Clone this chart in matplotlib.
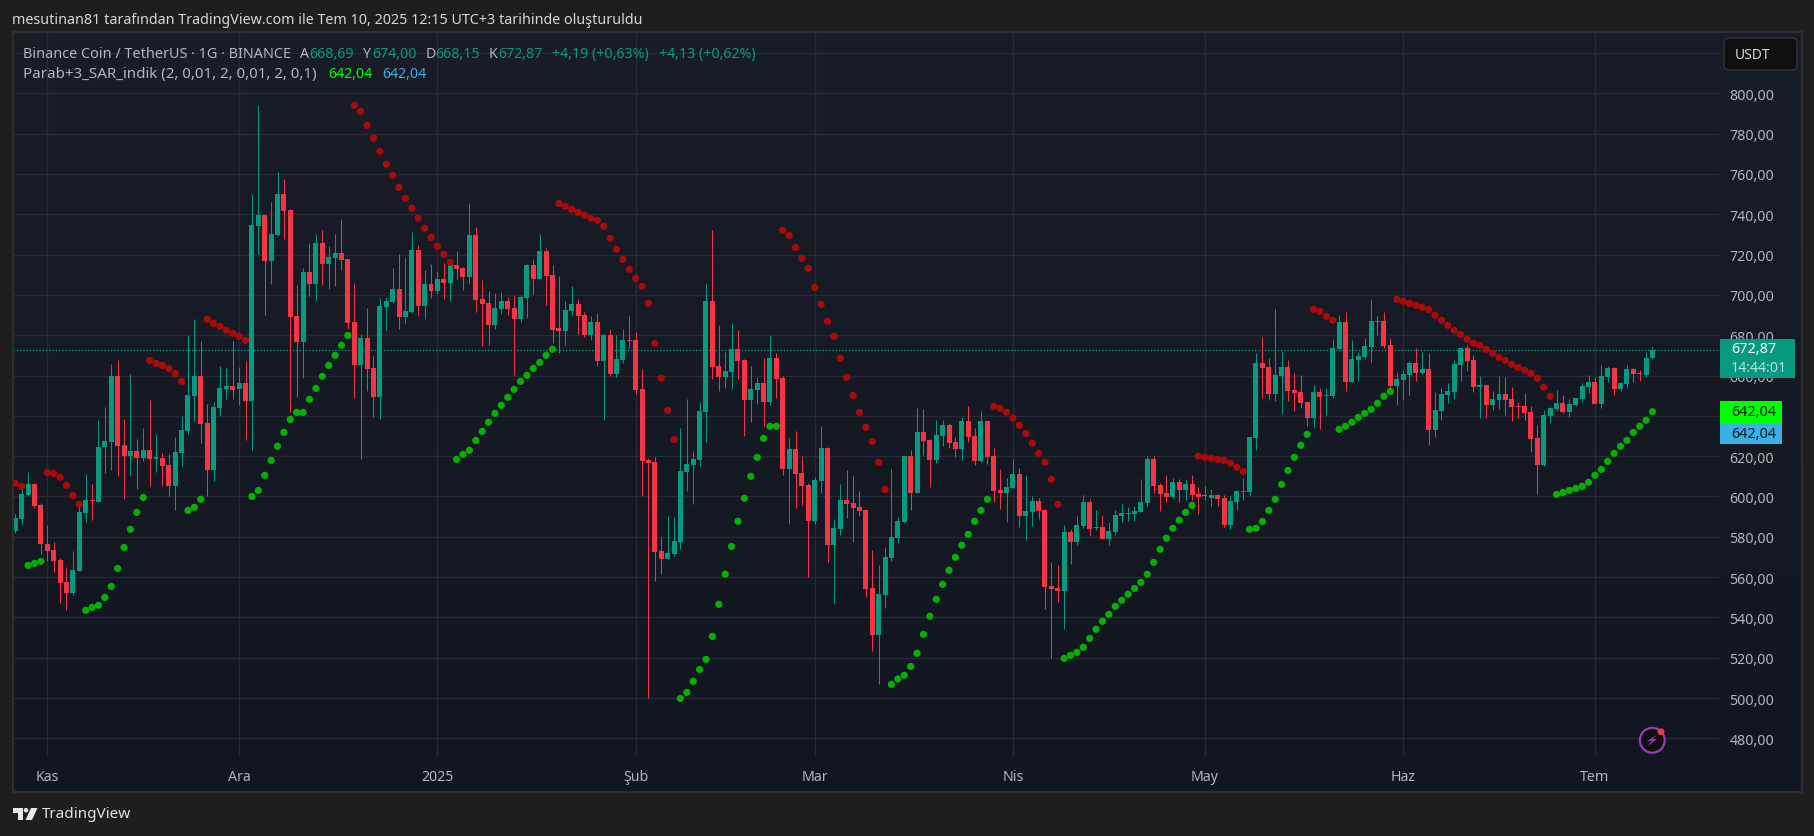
"""BNB/USDT daily candles with Parabolic SAR, TradingView dark style."""
import numpy as np
import pandas as pd
import matplotlib
matplotlib.use("Agg")
import matplotlib.pyplot as plt
from matplotlib.patches import Circle, FancyBboxPatch, Polygon, Rectangle

plt.rcParams["font.family"] = ["Noto Sans", "DejaVu Sans"]

dates = pd.date_range("2024-10-27", "2025-07-10", freq="D")

opens = [
    582.8, 588.8, 600.7, 606.2, 595.7, 576.4, 573.4, 568.5, 557.5, 552.1,
    563.0, 591.8, 598.2, 597.2, 624.5, 627.0, 659.7, 625.5, 620.0, 622.5,
    619.0, 623.0, 618.8, 619.0, 615.6, 605.2, 621.6, 632.5, 649.8, 659.7,
    636.4, 613.1, 643.9, 653.3, 654.8, 653.3, 656.3, 647.3, 734.2, 739.6,
    716.8, 729.7, 750.0, 742.1, 689.5, 676.6, 711.3, 705.4, 725.7, 715.3,
    718.3, 720.8, 717.8, 686.5, 665.2, 678.6, 663.7, 649.3, 694.0, 696.5,
    702.9, 689.0, 691.5, 722.3, 694.5, 705.4, 701.9, 707.9, 705.9, 714.8,
    713.3, 708.9, 729.7, 697.9, 696.0, 685.0, 693.0, 697.0, 693.5, 688.0,
    698.4, 714.8, 707.9, 721.8, 709.9, 683.6, 682.1, 692.0, 695.5, 690.0,
    680.1, 686.5, 667.2, 680.1, 660.7, 667.7, 677.6, 677.6, 653.3, 618.2,
    617.1, 572.9, 569.0, 571.4, 577.4, 612.1, 615.6, 618.1, 641.9, 697.0,
    664.7, 659.2, 661.7, 673.1, 667.7, 647.8, 652.8, 656.3, 646.8, 668.7,
    658.8, 613.6, 623.5, 611.6, 605.7, 587.8, 607.7, 624.0, 575.9, 583.8,
    598.2, 596.7, 594.8, 593.3, 554.6, 531.3, 551.1, 569.5, 579.4, 587.4,
    620.1, 601.7, 632.0, 628.0, 618.1, 630.0, 635.5, 627.0, 623.6, 637.5,
    630.0, 617.6, 637.5, 620.1, 603.2, 601.7, 604.2, 611.2, 590.3, 592.3,
    597.8, 593.3, 555.6, 554.6, 553.1, 582.4, 577.4, 585.4, 597.3, 584.4,
    584.9, 578.9, 582.4, 590.3, 591.3, 591.3, 592.3, 596.8, 618.6, 605.7,
    601.7, 599.8, 607.2, 603.2, 606.2, 601.2, 600.3, 599.3, 600.8, 599.3,
    585.9, 597.3, 602.2, 602.2, 629.0, 666.2, 664.2, 650.8, 659.8, 664.2,
    652.8, 651.8, 646.9, 638.9, 651.8, 649.8, 649.8, 673.1, 686.5, 656.8,
    667.7, 669.2, 674.1, 687.0, 687.0, 675.1, 654.8, 657.8, 660.2, 666.2,
    661.2, 663.2, 632.9, 642.4, 650.3, 651.8, 665.2, 673.6, 667.7, 654.3,
    655.3, 645.4, 647.8, 650.8, 648.3, 644.9, 644.9, 641.9, 629.0, 615.6,
    639.9, 643.4, 646.4, 641.9, 645.4, 648.3, 654.3, 656.8, 645.9, 659.2,
    663.7, 653.3, 655.8, 663.2, 661.2, 660.2, 668.69,
]
highs = [
    591.3, 604.7, 612.1, 606.7, 596.7, 585.8, 577.4, 569.5, 565.0, 572.9,
    595.3, 611.0, 606.2, 637.9, 644.4, 665.7, 667.7, 638.4, 660.7, 628.5,
    634.0, 647.8, 631.0, 621.6, 621.0, 629.5, 639.9, 680.0, 688.0, 677.1,
    645.8, 646.8, 664.7, 663.7, 677.1, 664.2, 667.2, 750.0, 794.2, 740.1,
    746.0, 761.0, 757.5, 742.6, 704.9, 713.3, 725.7, 730.2, 732.2, 724.2,
    730.2, 737.6, 717.8, 705.9, 680.6, 693.5, 669.7, 698.4, 699.0, 713.3,
    720.3, 718.6, 731.2, 724.7, 712.3, 715.3, 711.8, 715.8, 715.8, 721.8,
    713.8, 745.6, 733.7, 707.4, 701.9, 700.9, 701.4, 699.0, 699.9, 699.9,
    715.3, 717.8, 730.2, 723.3, 714.8, 709.4, 697.0, 704.4, 697.9, 691.5,
    689.5, 691.0, 680.6, 683.0, 680.1, 683.0, 689.5, 681.6, 663.2, 619.0,
    619.6, 579.9, 590.3, 589.8, 634.0, 648.3, 622.5, 646.8, 705.4, 732.2,
    685.0, 671.6, 686.0, 682.6, 668.2, 664.7, 659.2, 668.7, 680.1, 671.2,
    659.7, 629.0, 632.5, 620.0, 606.7, 609.6, 634.9, 624.5, 588.8, 606.2,
    613.1, 610.1, 602.7, 593.3, 573.4, 566.0, 574.9, 613.6, 589.8, 620.1,
    623.1, 643.9, 643.4, 628.5, 638.0, 638.0, 636.5, 629.5, 639.4, 644.9,
    634.0, 642.4, 637.5, 624.0, 613.6, 609.2, 618.6, 614.2, 610.7, 600.3,
    599.3, 593.8, 567.5, 566.0, 585.9, 583.9, 590.3, 600.8, 598.8, 593.3,
    590.8, 587.4, 593.3, 596.3, 594.8, 595.3, 608.7, 620.1, 620.1, 606.7,
    610.7, 609.2, 608.7, 608.2, 610.7, 604.7, 605.2, 603.7, 601.2, 600.8,
    600.3, 603.2, 609.2, 629.5, 671.2, 679.1, 668.7, 693.0, 672.1, 667.7,
    661.2, 660.2, 646.9, 655.3, 653.8, 653.8, 678.1, 690.0, 691.5, 677.6,
    671.7, 678.6, 698.0, 689.5, 691.5, 678.6, 661.7, 662.7, 667.2, 673.6,
    671.7, 671.2, 651.8, 653.8, 656.3, 667.7, 674.1, 675.1, 670.2, 659.8,
    655.3, 652.3, 659.8, 659.3, 654.3, 646.9, 651.3, 644.9, 635.4, 642.9,
    644.4, 652.8, 650.3, 648.3, 648.8, 656.3, 660.2, 659.2, 665.2, 664.7,
    664.2, 656.8, 665.2, 663.7, 662.7, 671.7, 674.0,
]
lows = [
    581.8, 585.8, 600.2, 594.3, 571.4, 567.9, 562.5, 547.1, 543.7, 551.1,
    563.0, 587.3, 588.3, 597.2, 611.6, 613.1, 610.1, 598.7, 610.6, 603.7,
    617.6, 605.2, 612.1, 605.2, 600.2, 593.3, 615.1, 631.0, 637.4, 626.5,
    600.2, 607.7, 639.9, 648.3, 648.3, 645.4, 628.0, 623.0, 720.3, 690.0,
    705.4, 729.0, 727.7, 641.9, 649.3, 658.8, 699.4, 697.0, 704.9, 702.9,
    704.4, 712.3, 683.0, 648.8, 618.6, 652.3, 639.4, 638.4, 682.6, 696.0,
    683.0, 686.0, 691.0, 690.0, 688.0, 698.4, 700.4, 697.9, 697.0, 707.9,
    702.4, 705.9, 691.5, 674.6, 675.1, 683.1, 690.5, 690.0, 660.2, 686.5,
    688.5, 700.4, 707.9, 695.0, 676.1, 671.2, 675.1, 690.0, 680.6, 679.1,
    677.6, 664.7, 637.9, 659.7, 659.2, 666.2, 673.6, 650.8, 600.2, 500.0,
    558.0, 561.5, 569.0, 570.5, 573.9, 602.7, 596.3, 615.1, 627.0, 658.3,
    652.3, 653.8, 653.3, 658.3, 630.0, 636.9, 645.9, 635.0, 645.4, 648.8,
    610.6, 586.3, 594.3, 595.8, 560.0, 586.3, 601.7, 567.5, 547.1, 580.9,
    589.3, 577.4, 590.3, 550.1, 523.3, 506.9, 544.7, 568.0, 576.9, 587.0,
    593.3, 601.7, 620.6, 604.7, 616.6, 625.0, 624.1, 619.6, 618.1, 627.0,
    615.6, 617.1, 616.1, 597.3, 593.8, 587.4, 604.2, 584.9, 578.4, 585.4,
    588.8, 544.2, 519.9, 547.7, 534.3, 566.5, 575.9, 584.4, 580.4, 583.4,
    578.9, 575.9, 580.9, 587.4, 587.9, 587.9, 592.3, 595.3, 601.7, 592.8,
    597.3, 599.3, 597.3, 598.3, 598.3, 591.3, 598.3, 595.3, 595.3, 584.9,
    583.9, 593.3, 598.3, 600.8, 623.0, 648.8, 647.8, 647.3, 640.9, 647.3,
    642.4, 643.9, 634.9, 634.4, 633.5, 640.4, 648.8, 673.1, 652.3, 656.8,
    657.3, 668.2, 666.7, 680.1, 673.6, 653.8, 645.4, 647.8, 650.3, 657.3,
    660.7, 625.5, 629.5, 637.9, 646.4, 648.3, 657.3, 662.2, 651.8, 638.9,
    638.9, 642.9, 643.4, 640.4, 637.4, 638.9, 637.9, 622.1, 601.2, 615.1,
    636.4, 642.4, 641.4, 639.4, 645.0, 646.9, 651.3, 645.9, 643.9, 656.8,
    650.3, 652.3, 653.8, 656.8, 657.3, 659.2, 668.15,
]
closes = [
    589.3, 601.2, 606.2, 595.2, 576.4, 572.9, 568.0, 557.0, 552.1, 563.5,
    592.3, 598.2, 597.7, 624.5, 627.5, 659.7, 625.0, 620.0, 622.5, 619.0,
    623.0, 618.6, 619.0, 615.0, 605.2, 622.0, 633.0, 650.3, 659.7, 635.9,
    613.1, 644.4, 653.8, 654.8, 652.8, 656.3, 647.3, 734.7, 739.6, 716.8,
    730.2, 750.0, 741.6, 689.0, 676.6, 711.3, 705.4, 725.7, 715.3, 718.8,
    720.8, 717.3, 686.0, 665.2, 678.6, 663.2, 649.3, 694.5, 697.0, 702.9,
    689.0, 692.0, 722.3, 694.5, 705.4, 701.9, 707.9, 705.9, 714.8, 712.8,
    708.9, 729.7, 697.5, 695.5, 685.0, 693.5, 697.0, 693.0, 688.0, 698.9,
    714.8, 707.9, 721.8, 709.4, 682.6, 682.1, 692.5, 695.5, 689.5, 680.1,
    686.5, 667.2, 680.1, 660.7, 668.2, 677.6, 677.1, 652.8, 617.6, 616.6,
    572.4, 569.0, 571.9, 577.9, 612.6, 616.1, 618.6, 642.4, 697.0, 664.2,
    659.2, 662.2, 673.1, 667.2, 647.8, 653.3, 656.3, 646.8, 668.7, 658.3,
    613.6, 623.5, 611.1, 605.2, 587.8, 608.2, 624.0, 575.9, 584.3, 598.2,
    596.3, 594.3, 592.8, 554.1, 531.3, 551.6, 570.0, 579.9, 587.8, 620.1,
    601.7, 632.0, 627.5, 618.1, 630.5, 635.5, 626.5, 623.6, 637.5, 629.5,
    617.6, 637.5, 619.6, 602.7, 601.7, 604.7, 611.2, 590.3, 592.8, 597.8,
    592.8, 555.1, 554.1, 553.1, 582.4, 577.4, 585.9, 597.3, 583.9, 584.9,
    578.9, 582.9, 590.8, 591.8, 591.8, 592.8, 597.3, 618.6, 605.2, 601.3,
    599.8, 607.2, 603.2, 606.2, 600.8, 599.8, 600.1, 600.8, 598.8, 585.9,
    597.8, 602.7, 602.7, 629.5, 666.2, 663.7, 650.8, 660.2, 664.2, 652.3,
    651.3, 646.4, 638.9, 651.8, 649.3, 650.1, 673.6, 686.5, 656.8, 668.2,
    669.7, 674.6, 687.0, 686.5, 674.6, 654.8, 658.3, 660.7, 666.2, 661.2,
    663.2, 632.9, 642.9, 650.8, 652.3, 665.7, 673.6, 667.2, 654.3, 655.3,
    645.4, 648.3, 650.8, 647.8, 644.4, 644.4, 641.4, 628.5, 615.6, 640.4,
    643.9, 646.4, 641.9, 645.9, 648.8, 654.8, 656.8, 645.9, 659.7, 663.7,
    653.3, 656.3, 663.2, 660.7, 660.7, 668.7, 672.87,
]
sar = [
    606.5, 605.0, 565.8, 566.8, 567.8, 611.9, 611.4, 609.5, 605.5, 600.5,
    596.1, 543.5, 545.0, 546.0, 549.9, 555.4, 564.3, 574.7, 583.7, 592.1,
    599.5, 667.5, 666.0, 665.0, 663.5, 661.0, 657.0, 593.1, 594.6, 598.6,
    687.9, 685.9, 684.4, 682.4, 680.9, 679.4, 677.4, 600.0, 603.0, 610.5,
    617.9, 624.9, 631.8, 638.2, 641.7, 641.7, 648.2, 653.6, 659.6, 665.0,
    670.0, 675.0, 679.9, 794.0, 791.0, 784.1, 777.7, 771.2, 764.8, 759.3,
    753.3, 747.9, 743.0, 738.0, 733.0, 728.5, 724.1, 720.1, 716.2, 618.4,
    620.9, 622.9, 627.8, 632.3, 636.8, 641.2, 645.2, 649.2, 653.1, 657.1,
    660.1, 663.5, 666.5, 670.0, 673.0, 745.4, 743.9, 742.4, 740.9, 739.5,
    738.0, 737.0, 734.0, 728.0, 722.6, 717.6, 712.7, 708.2, 704.2, 695.8,
    675.9, 658.6, 642.7, 628.3, 499.8, 502.8, 508.3, 514.2, 519.2, 530.6,
    546.5, 561.4, 575.2, 587.7, 599.1, 610.0, 619.4, 628.8, 634.8, 634.8,
    732.0, 729.5, 723.6, 718.1, 713.2, 703.7, 695.3, 686.9, 679.4, 668.5,
    659.1, 650.1, 641.7, 634.3, 627.3, 616.9, 603.5, 506.8, 509.5, 511.3,
    515.7, 522.2, 531.6, 540.6, 549.0, 556.4, 563.4, 569.8, 575.8, 581.2,
    587.7, 593.1, 598.6, 644.7, 643.7, 641.8, 638.8, 635.3, 631.3, 626.4,
    621.4, 617.0, 608.5, 596.1, 519.7, 521.2, 522.7, 525.2, 529.6, 534.1,
    538.1, 541.5, 545.5, 548.5, 551.5, 554.4, 557.4, 561.4, 567.3, 573.8,
    579.3, 584.2, 588.2, 592.1, 595.6, 620.0, 619.4, 618.9, 618.4, 617.9,
    616.5, 614.5, 612.5, 583.7, 584.2, 587.6, 593.1, 598.6, 606.0, 612.9,
    619.4, 625.4, 630.8, 692.8, 691.8, 689.3, 687.4, 633.3, 634.8, 636.8,
    639.2, 641.2, 643.2, 646.2, 649.7, 652.1, 697.8, 696.8, 695.8, 694.8,
    693.8, 692.8, 689.9, 687.4, 684.9, 682.4, 680.4, 677.9, 676.0, 675.0,
    673.0, 671.0, 669.0, 667.5, 665.5, 664.0, 662.6, 661.1, 658.6, 654.1,
    649.7, 601.0, 602.0, 603.0, 604.0, 605.0, 607.0, 610.5, 613.4, 617.4,
    621.4, 624.9, 627.8, 631.8, 634.8, 637.8, 642.04,
]
# candle numbers where the SAR changes side; the series opens above price
sar_flips = [2, 5, 11, 21, 27, 30, 37, 53, 69, 85, 104, 120, 137, 153, 164,
             185, 193, 203, 207, 216, 241]

month_ticks = ["2024-11-01", "2024-12-01", "2025-01-01", "2025-02-01", "2025-03-01",
               "2025-04-01", "2025-05-01", "2025-06-01", "2025-07-01"]
month_labels = ["Kas", "Ara", "2025", "Şub", "Mar", "Nis", "May", "Haz", "Tem"]
price_ticks = list(range(480, 821, 20))
# these two axis labels sit fully behind the SAR tag and the USDT button
hidden_ticks = [640, 820]
last_price = 672.87
sar_last = 642.04

UP = "#089981"
DOWN = "#F23645"
SAR_UP = "#05B005"
SAR_DOWN = "#AA0A0A"
GRID = "#262a35"
TEXT = "#B2B5BE"
W, H = 1814, 837

fig = plt.figure(figsize=(W / 100, H / 100), dpi=100, facecolor="#1E1E1E")


def box(x0, y0, x1, y1):
    """Axes rectangle from pixel edges, y counted from the top."""
    return [x0 / W, 1 - y1 / H, (x1 - x0) / W, (y1 - y0) / H]


# pane background
bg = fig.add_axes(box(13, 33, 1801, 792))
bg.imshow(np.linspace(0, 1, 256).reshape(-1, 1), aspect="auto",
          cmap=matplotlib.colors.LinearSegmentedColormap.from_list("pane", ["#191D28", "#121620"]))
bg.set_axis_off()

# ── Price chart ───────────────────────────────────────────────────────────────
ax = fig.add_axes(box(13, 33, 1719, 757.3))
ax.patch.set_alpha(0)
ax.set_xlim(-0.36, 266.4)
ax.set_ylim(471.1, 830.4)
for spine in ax.spines.values():
    spine.set_visible(False)

idx = np.arange(len(dates))
o, h, l, c = map(np.array, (opens, highs, lows, closes))
colors = np.where(c >= o, UP, DOWN)

ax.vlines(idx, l, h, colors=colors, linewidth=0.72, zorder=2)
ax.bar(idx, np.maximum(np.abs(c - o), 0.6), bottom=np.minimum(o, c), width=0.78,
       color=colors, linewidth=0, zorder=3)

side = np.cumsum(np.isin(idx, sar_flips)) % 2 == 1
ax.scatter(idx, sar, s=27, c=np.where(side, SAR_UP, SAR_DOWN), linewidths=0, zorder=4)

ax.axhline(last_price, color="#0BA58C", linewidth=0.9, linestyle=(0, (1, 1.6)), zorder=1.5)

ax.set_xticks([dates.get_loc(pd.Timestamp(d)) for d in month_ticks])
ax.set_xticklabels(month_labels)
ax.set_yticks(price_ticks)
ax.set_yticklabels(["" if p in hidden_ticks else f"{p},00" for p in price_ticks])
ax.yaxis.tick_right()
ax.tick_params(axis="both", length=0, colors=TEXT, labelsize=10.2)
ax.tick_params(axis="y", pad=7.5)
ax.tick_params(axis="x", pad=9.5)
ax.grid(True, color=GRID, linewidth=1.0, zorder=0)
ax.set_axisbelow(True)
ax.get_xticklabels()[2].set_fontweight("bold")
for t in ax.get_yticklabels():
    t.set_verticalalignment("center_baseline")

# ── Overlay in pixel coordinates: texts, price tags, logo ─────────────────────
ov = fig.add_axes([0, 0, 1, 1])
ov.set_xlim(0, W)
ov.set_ylim(H, 0)
ov.set_axis_off()
ov.patch.set_alpha(0)

ov.add_patch(Rectangle((12.5, 32.5), 1789, 760, fill=False, edgecolor="#2E2E2E", linewidth=1.6))


def label(x, y, s, color=TEXT, size=10.2, **kw):
    ov.text(x, y, s, color=color, fontsize=size, va="center", ha="left", **kw)


label(12.5, 20, "mesutinan81 tarafından TradingView.com ile Tem 10, 2025 12:15 UTC+3 tarihinde oluşturuldu",
      color="#D6D6D6", size=10.3, fontweight="medium")

# legend rows
label(23, 54, "Binance Coin / TetherUS · 1G · BINANCE", size=10.4)
ohlc_row = [(300, "A", TEXT), (309, "668,69", UP), (363, "Y", TEXT), (372, "674,00", UP),
            (426, "D", TEXT), (435, "668,15", UP), (489, "K", TEXT), (498, "672,87", UP),
            (552, "+4,19 (+0,63%)", UP), (659, "+4,13 (+0,62%)", UP)]
for x, s, col in ohlc_row:
    label(x, 54, s, color=col, size=10.2)
label(23, 74.5, "Parab+3_SAR_indik (2, 0,01, 2, 0,01, 2, 0,1)", size=10.9)
label(328, 74.5, f"{sar_last:.2f}".replace(".", ","), color="#00FF00", size=10.2)
label(382, 74.5, f"{sar_last:.2f}".replace(".", ","), color="#3BB0E4", size=10.2)

# USDT button
ov.add_patch(FancyBboxPatch((1728, 43), 65, 24, boxstyle="round,pad=4,rounding_size=5",
                            facecolor="#0F0F0F", edgecolor="#2E2E2E", linewidth=1.2))
label(1735, 55, "USDT", color="#D1D4DC", size=10.0)

# price tags on the axis
ov.add_patch(Rectangle((1720, 340), 75, 39, facecolor=UP, linewidth=0))
label(1731, 349.5, f"{last_price:.2f}".replace(".", ","), color="white", size=10.4, fontweight="bold")
label(1731, 368, "14:44:01", color="#B9E2DA", size=10.2)
ov.add_patch(Rectangle((1720, 402), 62, 21.5, facecolor="#00FF00", linewidth=0))
label(1731, 412.5, f"{sar_last:.2f}".replace(".", ","), color="#0A1A0A", size=10.4)
ov.add_patch(Rectangle((1720, 424), 62, 21, facecolor="#3BB0E4", linewidth=0))
label(1731, 434.5, f"{sar_last:.2f}".replace(".", ","), color="#0A1A2A", size=10.4)

# lightning badge
ov.add_patch(Circle((1652.3, 741.3), 12.4, facecolor="#0F0F0F", edgecolor="#A038B8", linewidth=1.6))
ov.add_patch(Polygon([(1656.8, 735.8), (1646.8, 742.3), (1651.8, 741.8), (1647.3, 747.3),
                      (1657.3, 739.8), (1652.8, 740.3)], facecolor="#A038B8", linewidth=0))
ov.add_patch(Circle((1661, 732.7), 3.4, facecolor=DOWN, linewidth=0))

# TradingView logo
logo = "#E8E8E8"
ov.add_patch(Rectangle((13, 809), 10, 4.6, facecolor=logo, linewidth=0))
ov.add_patch(Rectangle((18, 809), 5, 12, facecolor=logo, linewidth=0))
ov.add_patch(Circle((26, 811.2), 2.3, facecolor=logo, linewidth=0))
ov.add_patch(Polygon([(31, 809), (37.5, 809), (32, 821), (25.5, 821)], facecolor=logo, linewidth=0))
label(42, 815, "TradingView", color="#E0E0E0", size=11.0)

fig.savefig("out.png", dpi=100, facecolor=fig.get_facecolor())
